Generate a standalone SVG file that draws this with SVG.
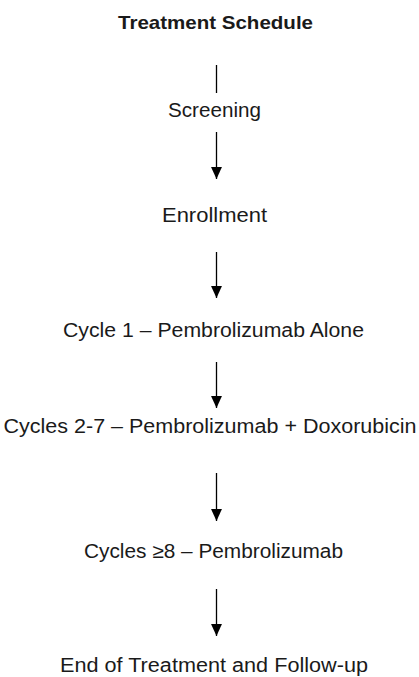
<svg xmlns="http://www.w3.org/2000/svg" width="419" height="677" viewBox="0 0 419 677">
<style>
text{font-family:"Liberation Sans",Arial,sans-serif;font-size:20px;fill:#1a1a1a;text-anchor:middle}
.title{font-weight:bold;font-size:19px}
.conn line{stroke:#000;stroke-width:1.3}
</style>
<defs>
<marker id="ah" markerUnits="userSpaceOnUse" markerWidth="12" markerHeight="12" viewBox="0 0 11 10" refX="11" refY="5" orient="auto">
<path d="M0,0 L11,5 L0,10 Z" fill="#000"/>
</marker>
</defs>
<rect width="419" height="677" fill="#fff"/>
<g id="title"><text class="title" x="215.5" y="29" textLength="195" lengthAdjust="spacingAndGlyphs">Treatment Schedule</text></g>
<g id="screening"><text x="214.5" y="117" textLength="93" lengthAdjust="spacingAndGlyphs">Screening</text></g>
<g id="enrollment"><text x="214.5" y="222" textLength="105" lengthAdjust="spacingAndGlyphs">Enrollment</text></g>
<g id="cycle1"><text x="213.5" y="337" textLength="301" lengthAdjust="spacingAndGlyphs">Cycle 1 – Pembrolizumab Alone</text></g>
<g id="cycles2-7"><text x="210" y="433" textLength="413" lengthAdjust="spacingAndGlyphs">Cycles 2-7 – Pembrolizumab + Doxorubicin</text></g>
<g id="cycles8"><text x="213.5" y="558" textLength="259" lengthAdjust="spacingAndGlyphs">Cycles ≥8 – Pembrolizumab</text></g>
<g id="end"><text x="214" y="672" textLength="308" lengthAdjust="spacingAndGlyphs">End of Treatment and Follow-up</text></g>
<g class="conn" id="connectors">
<line x1="216.5" y1="65" x2="216.5" y2="93"/>
<line x1="216.5" y1="132" x2="216.5" y2="179" marker-end="url(#ah)"/>
<line x1="216.5" y1="252" x2="216.5" y2="298" marker-end="url(#ah)"/>
<line x1="216.5" y1="362" x2="216.5" y2="408" marker-end="url(#ah)"/>
<line x1="216.5" y1="473" x2="216.5" y2="521" marker-end="url(#ah)"/>
<line x1="216.5" y1="589" x2="216.5" y2="636" marker-end="url(#ah)"/>
</g>
</svg>
